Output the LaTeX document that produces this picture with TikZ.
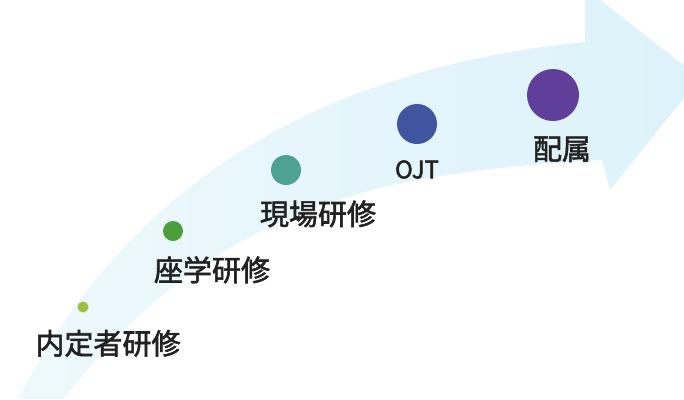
\documentclass[tikz,border=0pt]{standalone}
\usepackage{fontspec}
\setmainfont{Noto Sans CJK JP}
\newfontfamily\stagefont{Noto Sans CJK JP}[FakeBold=2]
\usetikzlibrary{positioning}
\definecolor{arrowblue}{RGB}{220,242,250}
\definecolor{arrowpale}{RGB}{238,249,252}
\definecolor{textgray}{RGB}{34,34,34}
\definecolor{dotA}{RGB}{156,192,58}
\definecolor{dotB}{RGB}{76,158,59}
\definecolor{dotC}{RGB}{78,162,146}
\definecolor{dotD}{RGB}{63,85,160}
\definecolor{dotE}{RGB}{95,63,153}
\begin{document}
\begin{tikzpicture}[x=1pt,y=-1pt,node distance=15pt,
  stage dot/.style={circle,inner sep=0pt,minimum size=#1},
  stage label/.style={font=\stagefont\fontsize{29}{31}\selectfont,text=textgray,inner sep=0pt}]

  \useasboundingbox (0,0) rectangle (684,399);

  \path[left color=arrowpale,right color=arrowblue]
    (18,399) .. controls (120,200) and (300,70) .. (585,42)
    -- (585,-12) -- (700,78) -- (610,190) -- (602,160)
    .. controls (400,172) and (220,195) .. (64,399) -- cycle;

  \node[stage dot=11pt,fill=dotA] (naitei) at (83,307) {};
  \node[stage dot=20pt,fill=dotB] (zagaku) at (173,231) {};
  \node[stage dot=30pt,fill=dotC] (genba) at (286,170) {};
  \node[stage dot=40pt,fill=dotD] (ojt) at (417,124) {};
  \node[stage dot=52pt,fill=dotE] (haizoku) at (553,95) {};

  \node[stage label,below=17pt of naitei,xshift=25pt] (naitei label) {内定者研修};
  \node[stage label,below=of zagaku,xshift=39pt] (zagaku label) {座学研修};
  \node[stage label,below=of genba,xshift=32pt] (genba label) {現場研修};
  \node[stage label,below=16pt of ojt,font=\stagefont\fontsize{24}{26}\selectfont] (ojt label) {OJT};
  \node[stage label,below=of haizoku,xshift=9pt] (haizoku label) {配属};
\end{tikzpicture}
\end{document}
